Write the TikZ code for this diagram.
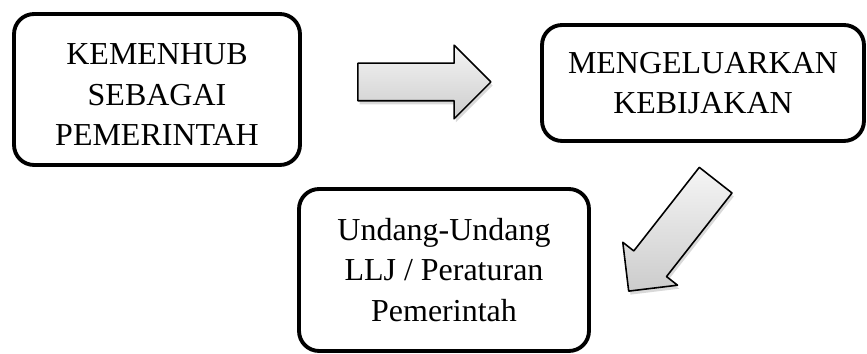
\documentclass[tikz,border=0pt]{standalone}
\usepackage{fontspec}
\setmainfont{Liberation Serif}
\usetikzlibrary{shapes.arrows,shadows}

\begin{document}
\begin{tikzpicture}[x=0.02cm, y=-0.02cm, line join=round,
  kotak/.style={draw, line width=2.2pt, rounded corners=0.4cm, align=center,
    font=\fontsize{18.2}{23}\selectfont, inner sep=0pt},
  panah/.style={single arrow, draw, line width=0.9pt, inner xsep=0pt,
    anchor=tip, top color=gray!8, bottom color=gray!40,
    drop shadow={opacity=0.3, shadow xshift=1pt, shadow yshift=-2pt}}]

\useasboundingbox (0,0) rectangle (867,354);

% Kotak
\node[kotak, minimum width=5.72cm, minimum height=3.02cm, text height=64pt]
  (kemenhub) at (157,89.5) {KEMENHUB\\SEBAGAI\\PEMERINTAH};
\node[kotak, minimum width=6.44cm, minimum height=2.32cm] (kebijakan) at (703,83)
  {MENGELUARKAN\\KEBIJAKAN};
\node[kotak, minimum width=5.8cm, minimum height=3.24cm] (uu) at (444,270)
  {Undang-Undang\\LLJ / Peraturan\\Pemerintah};

% Panah
\node[panah, inner ysep=0.36cm, single arrow head extend=0.36cm,
  minimum height=2.66cm] (panah1) at (492,82) {};
\node[panah, inner ysep=0.4cm, single arrow head extend=0.28cm,
  minimum height=2.82cm, rotate=231.9] (panah2) at (628,292) {};

\end{tikzpicture}
\end{document}
